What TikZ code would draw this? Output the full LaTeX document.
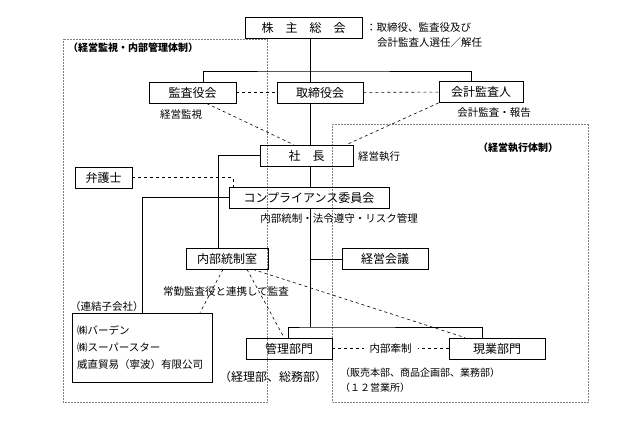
\documentclass[tikz,border=0pt]{standalone}
\usepackage{fontspec}
\setmainfont{Noto Sans CJK JP}
\begin{document}
\begin{tikzpicture}[x=1pt, y=-1pt]
	\tikzstyle{block} = [draw, line width=0.8pt, inner sep=0pt, minimum height=21pt, font=\fontsize{12}{14}\selectfont]
	\tikzstyle{note} = [inner sep=0pt, font=\fontsize{10.5}{12}\selectfont]
	\tikzstyle{title} = [inner sep=0pt, font=\fontsize{10}{12}\selectfont\bfseries]
	\tikzstyle{frame} = [densely dotted, gray, line width=0.5pt]
	\tikzstyle{link} = [line width=0.8pt]
	\tikzstyle{dlink} = [dashed, line width=0.6pt]
	\useasboundingbox (0,0) rectangle (623,447);
	% frames
	\draw[frame] (63,39) rectangle (267,402);
	\draw[frame] (332,124) rectangle (588,402);
	\node[title, anchor=west](t-kanshi)at (68,48){（経営監視・内部管理体制）};
	\node[title, anchor=west](t-shikko)at (478,148){（経営執行体制）};
	% boxes
	\node[block, minimum width=117pt](soukai)at (303.5,28){株　主　総　会};
	\node[note, anchor=west](sennin1)at (366,28){：取締役、監査役及び};
	\node[note, anchor=west](sennin2)at (377,43){会計監査人選任／解任};
	\node[block, minimum width=87pt](kansayaku)at (192.5,92.5){監査役会};
	\node[block, minimum width=86pt](torishimari)at (320,92.5){取締役会};
	\node[block, minimum width=84pt](kaikei)at (481,92){会計監査人};
	\node[note](kanshi)at (181,115){経営監視};
	\node[note](houkoku)at (494,113){会計監査・報告};
	\node[block, minimum width=93pt](shacho)at (306.5,155.5){社　長};
	\node[note, anchor=west](shikko)at (358,157){経営執行};
	\node[block, minimum width=57pt](bengoshi)at (103.5,177.5){弁護士};
	\node[block, minimum width=160pt](comp)at (309,197.5){コンプライアンス委員会};
	\node[note](risk)at (339,219){内部統制・法令遵守・リスク管理};
	\node[block, minimum width=82pt](naibu)at (227,258.5){内部統制室};
	\node[block, minimum width=86pt](kaigi)at (385,259){経営会議};
	\node[note](renkei)at (226,292){常勤監査役と連携して監査};
	\node[note, anchor=west](t-renketsu)at (70,307){（連結子会社）};
	\node[block, minimum width=140pt, minimum height=69pt, text width=130pt, align=left,
		font=\fontsize{10.5}{17}\selectfont](renketsu)at (142,347.5){㈱バーデン\\㈱スーパースター\\威直貿易（寧波）有限公司};
	\node[block, minimum width=86pt](kanri)at (289,348.5){管理部門};
	\node[block, minimum width=96pt](genba)at (497,348.5){現業部門};
	\node[block, draw=none, anchor=center](kanri-sub)at (273,377){（経理部、総務部）};
	\node[note, anchor=west, font=\fontsize{10}{12}\selectfont](genba-sub1)at (340,373){（販売本部、商品企画部、業務部）};
	\node[note, anchor=west, font=\fontsize{10}{12}\selectfont](genba-sub2)at (340,388){（１２営業所）};
	% lines
	\coordinate (bus)at (310,71);
	\coordinate (bus2)at (310,327);
	\draw[link] ([xshift=10.5pt]kansayaku.north) |- (bus) -| ([xshift=-10pt]kaikei.north);
	\draw[link] (soukai.south -| bus) -- (torishimari.north -| bus)
	(torishimari.south -| bus) -- (shacho.north -| bus)
	(shacho.south -| bus) -- (comp.north -| bus)
	(comp.south -| bus) -- (bus2)
	(kaigi.west) -- (kaigi.west -| bus);
	\draw[link] ([xshift=-1pt]kanri.north) |- (bus2) -| ([xshift=-15pt]genba.north);
	\draw[link] (shacho.west) -| ([xshift=-9pt]naibu.north);
	\draw[link] (comp.west) -| (renketsu.north);
	\draw[dlink] (bengoshi.east) -| ([xshift=-76pt]comp.north);
	\path[dlink] (kansayaku) edge (torishimari)
	(torishimari) edge (kaikei)
	([xshift=14pt]kansayaku.south) edge ([xshift=-13pt]shacho.north)
	(kaikei.south west) edge ([xshift=40pt]shacho.north)
	([xshift=-4pt]naibu.south) edge ([xshift=58pt]renketsu.north)
	([xshift=20pt]naibu.south) edge ([xshift=-5pt]kanri.north)
	([xshift=26pt]naibu.south) edge ([xshift=-32pt]genba.north);
	\draw[dlink] (kanri) -- node[note, fill=white, inner xsep=6pt, inner ysep=2pt](kensei){内部牽制} (genba);
\end{tikzpicture}
\end{document}
